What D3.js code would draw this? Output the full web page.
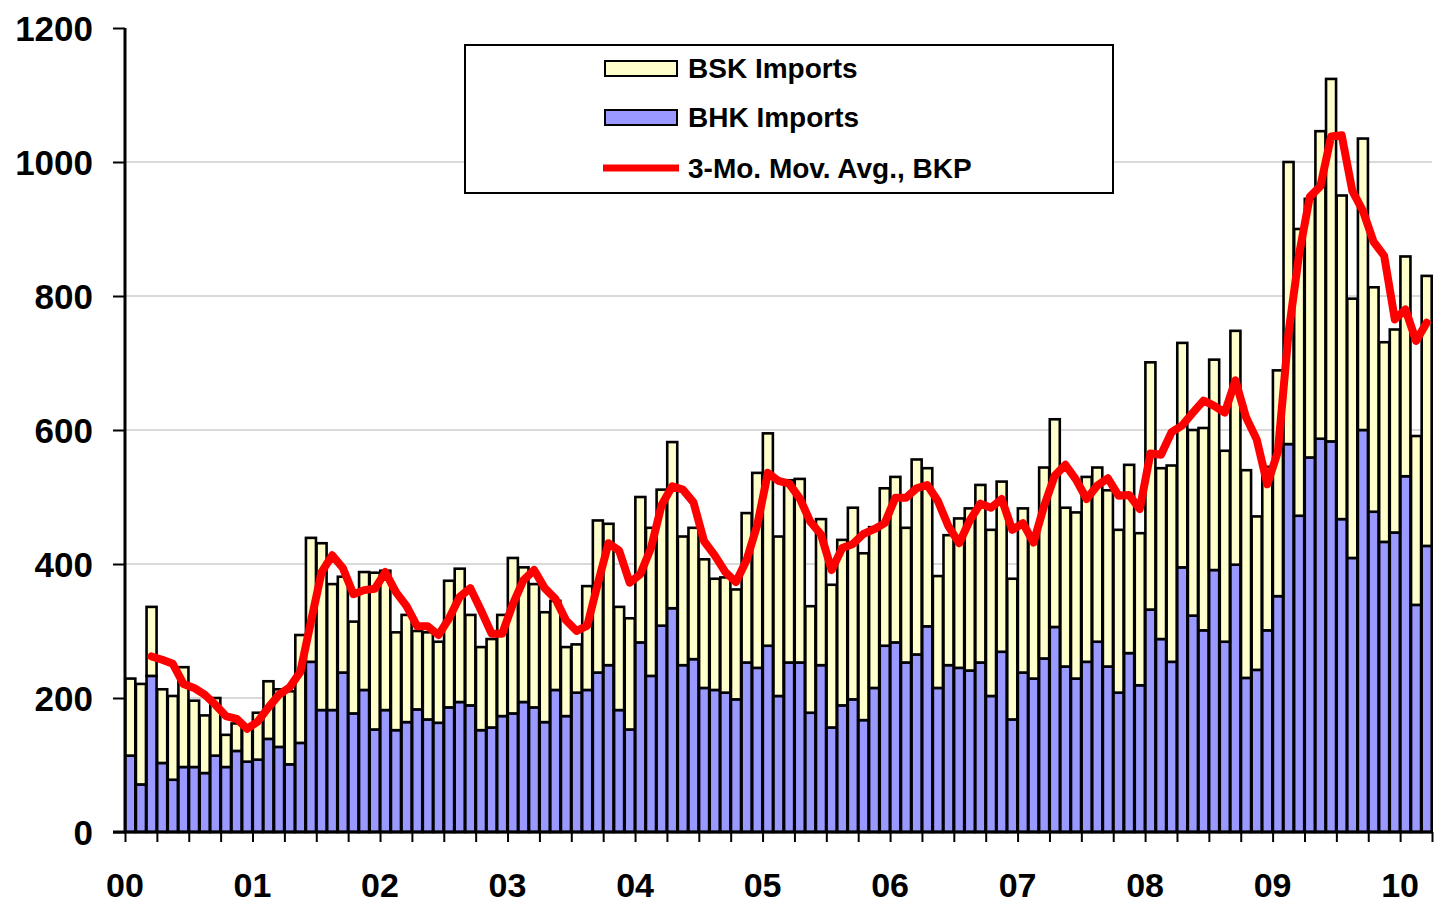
<!DOCTYPE html>
<html>
<head>
<meta charset="utf-8">
<script src="https://cdn.jsdelivr.net/npm/d3@7"></script>
<style>
  body { margin: 0; background: #fff; }
  svg text { font-family: "Liberation Sans", Arial, sans-serif; font-weight: bold; fill: #000; }
</style>
</head>
<body>
<svg id="chart" width="1435" height="903"></svg>
<script>
// monthly data, Jan 2000 .. Mar 2010
var yearLabels = ["00","01","02","03","04","05","06","07","08","09","10"];
var yTicks = [0, 200, 400, 600, 800, 1000, 1200];

var bhk = [114,71,233,103,78,97,97,88,114,97,121,105,
           108,139,127,101,133,254,182,182,238,177,212,153,
           182,152,164,183,168,163,186,194,189,152,156,173,
           177,194,186,164,212,173,208,212,238,249,182,153,
           283,233,308,334,249,258,215,212,208,198,253,245,
           278,203,253,253,178,249,156,189,198,167,215,278,
           283,253,265,307,215,249,245,241,253,203,269,168,
           238,229,259,306,247,229,254,284,247,208,267,219,
           332,288,254,395,323,301,391,284,399,230,242,301,
           352,579,472,559,587,583,467,409,600,478,433,447,
           531,339,427];

var bsk = [115,150,103,110,125,149,99,86,86,48,41,50,
           70,86,86,109,161,185,249,188,143,137,176,234,
           208,146,160,117,130,121,189,199,135,124,132,151,
           232,201,184,164,133,103,72,155,227,211,154,166,
           217,221,203,248,192,196,192,166,172,164,223,291,
           317,238,272,274,159,218,213,247,286,249,240,235,
           247,201,291,236,167,194,223,242,265,248,254,210,
           245,206,285,310,237,248,276,260,263,243,281,227,
           369,255,293,335,277,302,314,285,349,310,229,244,
           337,421,428,386,459,541,483,387,435,335,298,303,
           328,252,403];

// 3-month moving average of BKP (BSK+BHK), starting Mar 2000
var bkpAvg = [262,257,251,221,215,205,190,173,169,154,
              165,186,205,216,239,314,388,413,394,355,361,363,
              388,358,337,307,307,294,319,351,364,331,296,296,
              340,376,391,364,348,316,300,308,371,431,420,372,
              385,424,488,516,511,492,434,413,388,373,406,458,
              536,524,520,498,463,444,391,424,430,445,452,461,
              499,499,513,518,494,456,431,465,490,484,497,451,
              461,432,487,532,548,526,497,517,528,502,503,482,
              565,563,597,607,626,644,636,626,674,619,586,519,
              568,745,863,948,964,1038,1040,957,927,881,860,765,
              780,733,760];
var avgStart = 2;

var nMonths = bhk.length;

var svg = d3.select("#chart");

var x = d3.scaleLinear().domain([0, nMonths]).range([125, 1432]);
var y = d3.scaleLinear().domain([0, 1200]).range([832, 28]);
var slot = x(1) - x(0);

// gridlines
svg.append("g").selectAll("line")
    .data(yTicks.filter(function(d){ return d > 0 && d < 1200; }))
    .enter().append("line")
    .attr("x1", x(0)).attr("x2", x(nMonths))
    .attr("y1", function(d){ return y(d); })
    .attr("y2", function(d){ return y(d); })
    .attr("stroke", "#d9d9d9")
    .attr("stroke-width", 2);

// stacked bars
var bars = svg.append("g");
bars.selectAll("rect.bhk")
    .data(bhk)
    .enter().append("rect")
    .attr("class", "bhk")
    .attr("x", function(d, i){ return x(i) + 0.3; })
    .attr("width", slot - 0.6)
    .attr("y", function(d){ return y(d); })
    .attr("height", function(d){ return y(0) - y(d); })
    .attr("fill", "#9999ff")
    .attr("stroke", "#000")
    .attr("stroke-width", 2.6);

bars.selectAll("rect.bsk")
    .data(bsk)
    .enter().append("rect")
    .attr("class", "bsk")
    .attr("x", function(d, i){ return x(i) + 0.3; })
    .attr("width", slot - 0.6)
    .attr("y", function(d, i){ return y(bhk[i] + d); })
    .attr("height", function(d, i){ return y(bhk[i]) - y(bhk[i] + d); })
    .attr("fill", "#ffffcc")
    .attr("stroke", "#000")
    .attr("stroke-width", 2.6);

// moving average line
var line = d3.line()
    .x(function(d, i){ return x(i + avgStart + 0.5); })
    .y(function(d){ return y(d); });

svg.append("path")
    .datum(bkpAvg)
    .attr("d", line)
    .attr("fill", "none")
    .attr("stroke", "#ff0000")
    .attr("stroke-width", 8)
    .attr("stroke-linejoin", "round")
    .attr("stroke-linecap", "round");

// y axis
var yAxis = svg.append("g")
    .attr("transform", "translate(" + x(0) + ",0)")
    .call(d3.axisLeft(y).tickValues(yTicks).tickSize(12).tickPadding(20).tickFormat(d3.format("d")));
yAxis.select(".domain").attr("stroke-width", 3).attr("d", "M0," + y(0) + "V" + y(1200));
yAxis.selectAll(".tick line").attr("stroke-width", 2);
yAxis.selectAll("text")
    .style("font-size", "35px")
    .style("font-family", "'Liberation Sans', Arial, sans-serif")
    .style("font-weight", "bold")
    .attr("dy", "0.36em");

// x axis (quarterly ticks)
var xAxis = svg.append("g")
    .attr("transform", "translate(0," + y(0) + ")")
    .call(d3.axisBottom(x).tickValues(d3.range(0, nMonths + 1, 3)).tickSize(10).tickFormat(""));
xAxis.select(".domain").attr("stroke-width", 3).attr("d", "M" + (x(0) - 12) + ",0H" + x(nMonths));
xAxis.selectAll(".tick line").attr("stroke-width", 2);

// year labels
svg.append("g").selectAll("text")
    .data(yearLabels)
    .enter().append("text")
    .attr("x", function(d, i){ return x(i * 12); })
    .attr("y", 897)
    .attr("text-anchor", "middle")
    .style("font-size", "34px")
    .text(function(d){ return d; });

// legend
var legend = svg.append("g");
legend.append("rect")
    .attr("x", 465).attr("y", 45).attr("width", 648).attr("height", 148)
    .attr("fill", "#fff").attr("stroke", "#000").attr("stroke-width", 2);

var legendItems = [
    {label: "BSK Imports", color: "#ffffcc", type: "rect"},
    {label: "BHK Imports", color: "#9999ff", type: "rect"},
    {label: "3-Mo. Mov. Avg., BKP", color: "#ff0000", type: "line"}
];
var legendY = [68, 117, 168];

legendItems.forEach(function(item, i){
    if (item.type === "rect") {
        legend.append("rect")
            .attr("x", 605).attr("y", legendY[i] - 7).attr("width", 72).attr("height", 15)
            .attr("fill", item.color).attr("stroke", "#000").attr("stroke-width", 2);
    } else {
        legend.append("line")
            .attr("x1", 603).attr("x2", 679)
            .attr("y1", legendY[i]).attr("y2", legendY[i])
            .attr("stroke", item.color).attr("stroke-width", 7);
    }
    legend.append("text")
        .attr("x", 688).attr("y", legendY[i])
        .attr("dy", "0.36em")
        .style("font-size", "28px")
        .text(item.label);
});
</script>
</body>
</html>
